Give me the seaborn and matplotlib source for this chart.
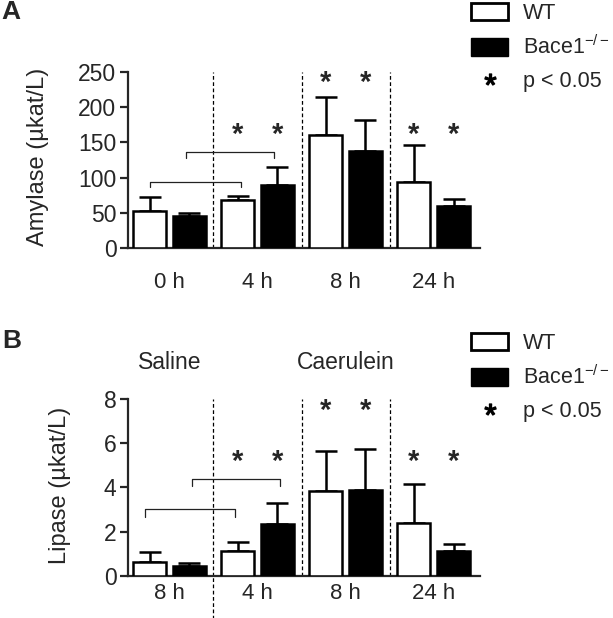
import pandas as pd
import matplotlib
matplotlib.use("Agg")
import matplotlib.pyplot as plt
from matplotlib.patches import Patch
from matplotlib.lines import Line2D
import seaborn as sns

# group keys (saline 8 h is separate from caerulein 8 h)
GROUPS = ["sal", "4", "8", "24"]
TICKS_A = ["0 h", "4 h", "8 h", "24 h"]
TICKS_B = ["8 h", "4 h", "8 h", "24 h"]
GENOTYPES = ["WT", "Bace1"]

# panel A: amylase (µkat/L), mean and SD
AMY_WT = [53, 68, 160, 94]
AMY_WT_SD = [20, 6, 54, 53]
AMY_KO = [45, 90, 138, 59]
AMY_KO_SD = [5, 25, 44, 10]
AMY_STARS = [None, 172, 246, 172]
AMY_BRACKETS = [(-0.22, 0.81, 94, 87), (0.19, 1.19, 137, 128)]

# panel B: lipase (µkat/L), mean and SD
LIP_WT = [0.63, 1.13, 3.83, 2.37]
LIP_WT_SD = [0.43, 0.38, 1.83, 1.78]
LIP_KO = [0.45, 2.32, 3.88, 1.12]
LIP_KO_SD = [0.11, 0.98, 1.84, 0.30]
LIP_STARS = [None, 5.5, 7.8, 5.5]
LIP_BRACKETS = [(-0.28, 0.75, 3.0, 2.65), (0.26, 1.25, 4.4, 4.07)]

sns.set_style("ticks")
plt.rcParams["font.family"] = ["Liberation Sans", "DejaVu Sans"]
plt.rcParams["mathtext.fontset"] = "custom"
plt.rcParams["mathtext.rm"] = "Liberation Sans"
plt.rcParams["mathtext.it"] = "Liberation Sans:italic"


def make_df(wt, ko):
    rows = []
    for g, v in zip(GROUPS, wt):
        rows.append({"time": g, "genotype": "WT", "value": v})
    for g, v in zip(GROUPS, ko):
        rows.append({"time": g, "genotype": "Bace1", "value": v})
    return pd.DataFrame(rows)


def draw_panel(ax, wt, wt_sd, ko, ko_sd, stars, brackets, ticks, ylim, yticks, ylabel):
    df = make_df(wt, ko)
    sns.barplot(data=df, x="time", y="value", hue="genotype", order=GROUPS,
                hue_order=GENOTYPES, palette={"WT": "white", "Bace1": "black"},
                edgecolor="black", linewidth=1.8, width=0.9, gap=0.17,
                errorbar=None, legend=False, ax=ax, zorder=3)
    patches = ax.patches
    xs_wt = [p.get_x() + p.get_width() / 2 for p in patches[:4]]
    xs_ko = [p.get_x() + p.get_width() / 2 for p in patches[4:8]]
    for xs, m, sd in [(xs_wt, wt, wt_sd), (xs_ko, ko, ko_sd)]:
        ax.errorbar(xs, m, yerr=[[0] * len(sd), sd], fmt="none", ecolor="black",
                    elinewidth=1.8, capsize=8, capthick=1.8, zorder=2)
        for x, s in zip(xs, stars):
            if s is not None:
                # glyph sits high in its box, so nudge it down a little
                ax.annotate("*", (x, s), xytext=(0, -5.5), textcoords="offset points",
                            ha="center", va="center", fontsize=21,
                            fontweight="bold", annotation_clip=False)
    for x0, x1, y, yd in brackets:
        ax.plot([x0, x0, x1, x1], [yd, y, y, yd], color="#222222", lw=0.9,
                clip_on=False, zorder=4)
    for x in [0.5, 1.5, 2.5]:
        ax.axvline(x, color="black", lw=0.9, ls=(0, (3, 2)), zorder=1)
    ax.set_xlim(-0.475, 3.525)
    ax.set_ylim(*ylim)
    ax.set_yticks(yticks)
    ax.set_xticks(range(4))
    ax.set_xticklabels(ticks, fontsize=16)
    ax.set_xlabel("")
    ax.set_ylabel(ylabel, fontsize=17)
    sns.despine(ax=ax)
    for sp in ["left", "bottom"]:
        ax.spines[sp].set_linewidth(1.6)
    ax.tick_params(axis="y", labelsize=16.5, width=1.6, length=6, pad=2)
    ax.tick_params(axis="x", length=0)


fig = plt.figure(figsize=(6.13, 6.18), dpi=100)
ax_a = fig.add_axes([0.208, 0.5987, 0.575, 0.2848])
ax_b = fig.add_axes([0.208, 0.0684, 0.575, 0.2859])

draw_panel(ax_a, AMY_WT, AMY_WT_SD, AMY_KO, AMY_KO_SD, AMY_STARS, AMY_BRACKETS,
           TICKS_A, (0, 250), [0, 50, 100, 150, 200, 250], "Amylase (µkat/L)")
ax_a.tick_params(axis="x", pad=17)
ax_a.yaxis.set_label_coords(-0.222, 0.52)

draw_panel(ax_b, LIP_WT, LIP_WT_SD, LIP_KO, LIP_KO_SD, LIP_STARS, LIP_BRACKETS,
           TICKS_B, (0, 8), [0, 2, 4, 6, 8], "Lipase (µkat/L)")
ax_b.tick_params(axis="x", pad=5)
ax_b.yaxis.set_label_coords(-0.161, 0.513)
# saline / caerulein separator runs down through the tick labels
ax_b.axvline(0.5, ymin=-0.25, ymax=0, color="black", lw=0.9, ls=(0, (3, 2)),
             clip_on=False)
ax_b.text(0.0, 9.65, "Saline", ha="center", va="center", fontsize=16.5)
ax_b.text(2.0, 9.65, "Caerulein", ha="center", va="center", fontsize=16.5)

fig.text(0.003, 0.98, "A", fontsize=19, fontweight="bold", va="center")
fig.text(0.003, 0.448, "B", fontsize=19, fontweight="bold", va="center")

handles = [Patch(facecolor="white", edgecolor="black", linewidth=2),
           Patch(facecolor="black", edgecolor="black"),
           Line2D([], [], ls="none", marker="$*$", color="black", markersize=8)]
labels = ["WT", "Bace1$^{-/-}$", "p < 0.05"]
for top in [3, 333]:
    fig.legend(handles, labels, loc="upper left",
               bbox_to_anchor=(471 / 613, 1 - top / 618), frameon=False,
               borderpad=0, borderaxespad=0, handlelength=1.72,
               handleheight=0.85, handletextpad=0.7, labelspacing=0.55,
               fontsize=15.5)

fig.savefig("out.png", dpi=100)
